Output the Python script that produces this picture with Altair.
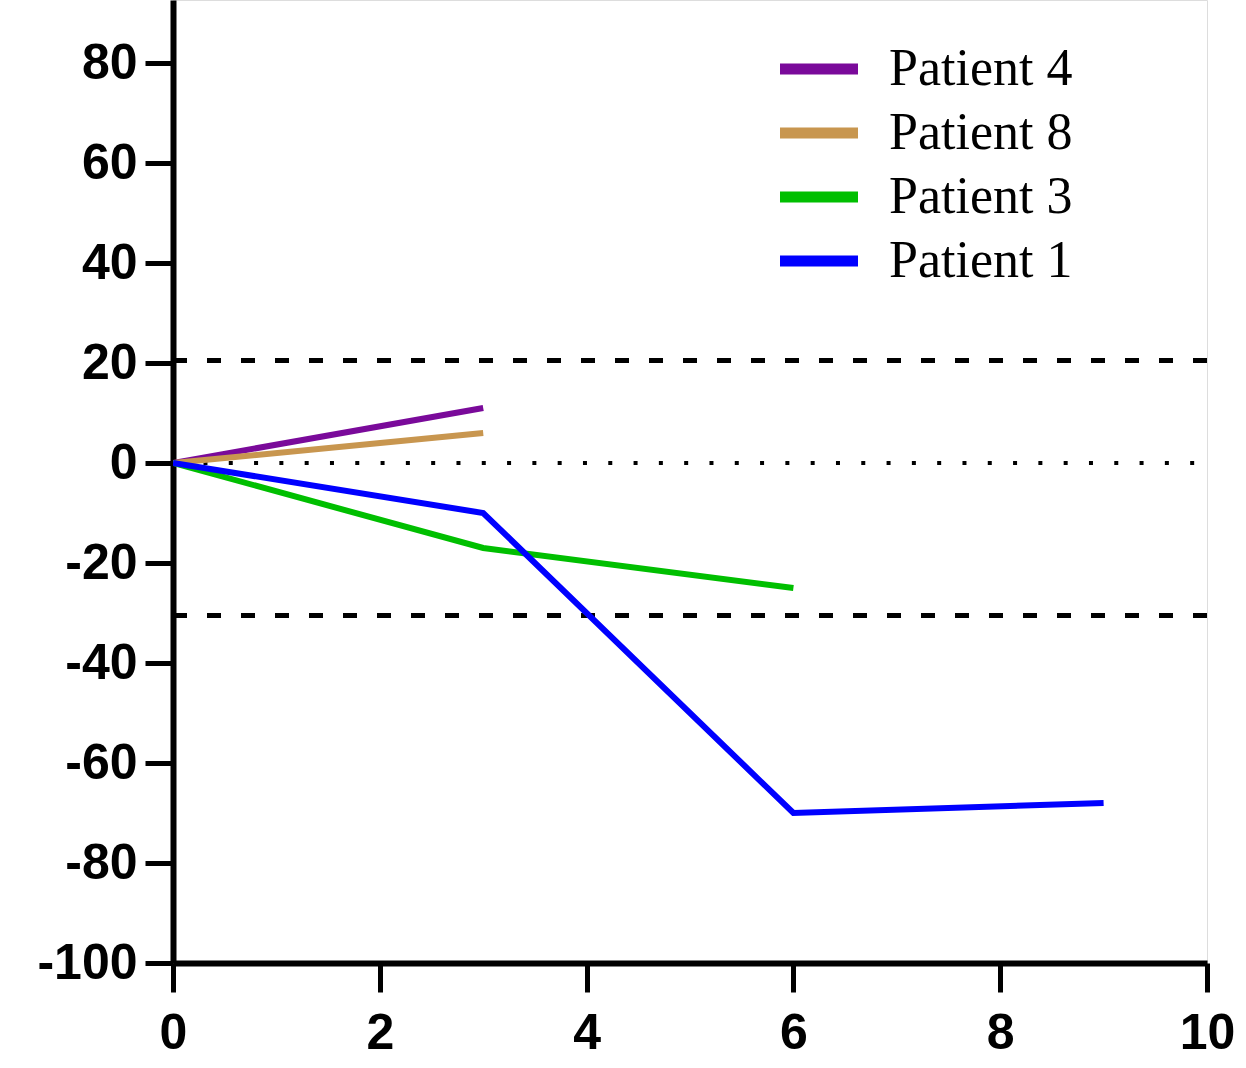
import altair as alt
import pandas as pd

patients = ["Patient 4", "Patient 8", "Patient 3", "Patient 1"]
colors = ["#7A0A9A", "#C8964F", "#00BF00", "#0000FF"]
times = {
    "Patient 4": [0, 3],
    "Patient 8": [0, 3],
    "Patient 3": [0, 3, 6],
    "Patient 1": [0, 3, 6, 9],
}
values = {
    "Patient 4": [0, 11],
    "Patient 8": [0, 6],
    "Patient 3": [0, -17, -25],
    "Patient 1": [0, -10, -70, -68],
}
dashed_levels = [20.5, -30.5]
dotted_level = [0]
x_ticks = [0, 2, 4, 6, 8, 10]
y_ticks = [-100, -80, -60, -40, -20, 0, 20, 40, 60, 80]

rows = []
for p in patients:
    for t, v in zip(times[p], values[p]):
        rows.append({"patient": p, "time": t, "value": v, "order": patients.index(p)})
df = pd.DataFrame(rows)

xs = alt.Scale(domain=[0, 10], nice=False)
ys = alt.Scale(domain=[-100, 92.6], nice=False)

dash_df = pd.DataFrame({"y": dashed_levels, "x0": [0, 0], "x1": [10, 10.05]})
dot_df = pd.DataFrame({"y": dotted_level, "x0": [0.05], "x1": [9.9]})

dashed = alt.Chart(dash_df).mark_rule(color="black", strokeWidth=5, strokeDash=[14, 20]).encode(
    x=alt.X("x0:Q", scale=xs), x2="x1:Q", y=alt.Y("y:Q", scale=ys)
)
dotted = alt.Chart(dot_df).mark_rule(color="black", strokeWidth=4, strokeDash=[4, 21.3]).encode(
    x=alt.X("x0:Q", scale=xs), x2="x1:Q", y=alt.Y("y:Q", scale=ys)
)

axis_common = dict(
    title=None,
    grid=False,
    domainColor="black",
    domainWidth=6,
    tickColor="black",
    tickWidth=5,
    labelFont="Liberation Sans",
    labelFontWeight="bold",
    labelFontSize=50,
    labelColor="black",
    labelExpr="toString(datum.value)",
)

lines = alt.Chart(df).mark_line(strokeWidth=6, clip=True).encode(
    x=alt.X(
        "time:Q",
        scale=xs,
        axis=alt.Axis(values=x_ticks, tickSize=29, labelPadding=16, labelFlush=False, **axis_common),
    ),
    y=alt.Y(
        "value:Q",
        scale=ys,
        axis=alt.Axis(values=y_ticks, tickSize=28, labelPadding=8, **axis_common),
    ),
    color=alt.Color(
        "patient:N",
        scale=alt.Scale(domain=patients, range=colors),
        legend=alt.Legend(
            title=None,
            orient="none",
            legendX=620,
            legendY=43,
            padding=0,
            symbolType="M-2,0H2",
            symbolSize=1521,
            symbolStrokeWidth=11,
            labelFont="Liberation Serif",
            labelFontSize=52,
            labelColor="black",
            labelOffset=44,
            rowPadding=12,
            labelLimit=400,
        ),
    ),
    order=alt.Order("order:Q", sort="descending"),
    detail="patient:N",
)

chart = (
    alt.layer(dashed, dotted, lines)
    .properties(
        width=1034,
        height=963,
        autosize=alt.AutoSizeParams(type="none"),
        padding={"left": 173, "top": 0, "right": 39, "bottom": 105},
    )
    .configure_view(stroke=None, strokeWidth=0)
    .configure(background="white")
)

chart.save("out.html", embed_options={"renderer": "svg", "actions": False})
